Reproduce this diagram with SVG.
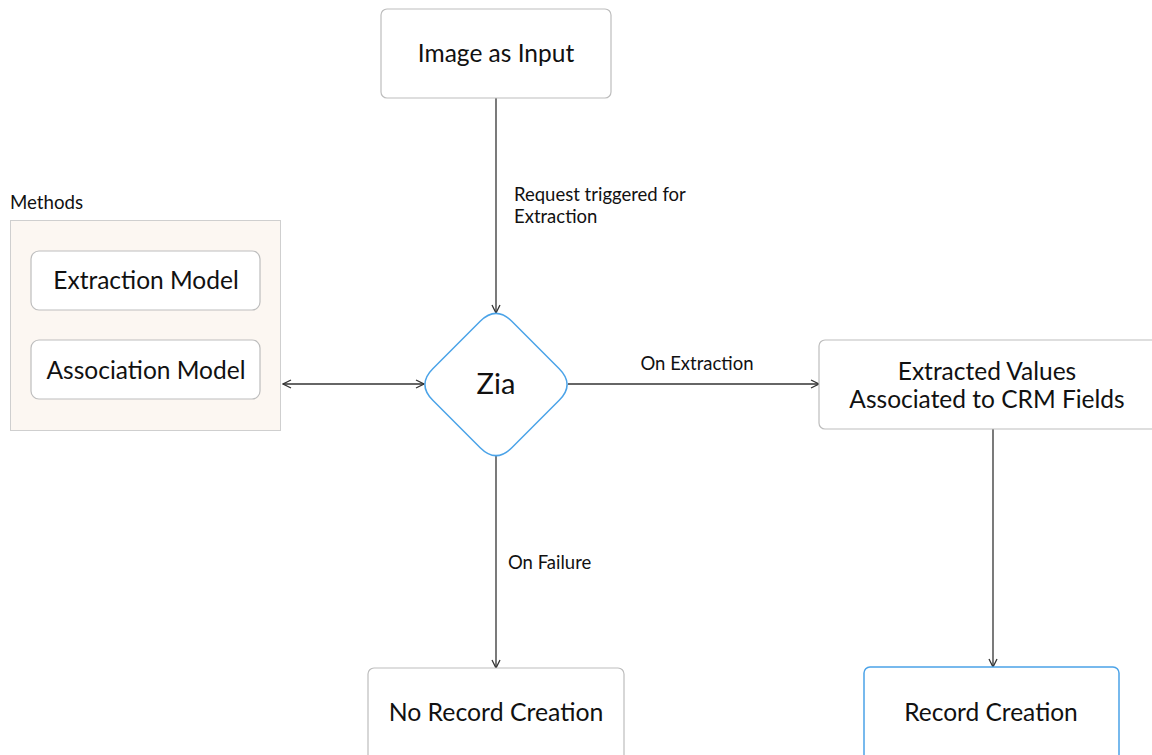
<svg xmlns="http://www.w3.org/2000/svg" width="1152" height="755" viewBox="0 0 1152 755">
<defs>
<style>
.box{fill:#fff;stroke:#bdbdbd;stroke-width:1.2}
.blue{fill:#fff;stroke:#4ba3e8;stroke-width:1.5}
.t{font-family:Lato,"Liberation Sans",sans-serif;fill:#111;text-anchor:middle}
.big{font-size:24.5px}
.sm{font-family:Lato,"Liberation Sans",sans-serif;fill:#111;font-size:18.5px}
.c{stroke:#333;stroke-width:1.3;fill:none}
</style>
<marker id="ah" viewBox="0 0 10 10" refX="9" refY="5" markerWidth="10" markerHeight="10" markerUnits="userSpaceOnUse" orient="auto-start-reverse">
<path d="M1,1 L9,5 L1,9" fill="none" stroke="#333" stroke-width="1.3"/>
</marker>
</defs>
<rect width="1152" height="755" fill="#fff"/>
<g id="connectors">
<line class="c" x1="496" y1="98" x2="496" y2="313" marker-end="url(#ah)"/>
<line class="c" x1="283" y1="384" x2="424" y2="384" marker-start="url(#ah)" marker-end="url(#ah)"/>
<line class="c" x1="568" y1="384" x2="819" y2="384" marker-end="url(#ah)"/>
<line class="c" x1="496" y1="456" x2="496" y2="668" marker-end="url(#ah)"/>
<line class="c" x1="993" y1="429" x2="993" y2="667" marker-end="url(#ah)"/>
<text class="sm" x="514" y="201">Request triggered for</text>
<text class="sm" x="514" y="223">Extraction</text>
<text class="sm" x="697" y="370" text-anchor="middle">On Extraction</text>
<text class="sm" x="508" y="569">On Failure</text>
</g>
<g id="image-input">
<rect class="box" x="381" y="9" width="230" height="89" rx="6"/>
<text class="t big" x="496" y="62">Image as Input</text>
</g>
<g id="methods">
<text class="sm" x="10" y="209" style="font-size:18.7px">Methods</text>
<rect x="10.5" y="220.5" width="270" height="210" fill="#fcf7f2" stroke="#cfcfcf" stroke-width="1"/>
</g>
<g id="extraction-model">
<rect class="box" x="31" y="251" width="229" height="59" rx="8"/>
<text class="t big" x="146" y="289">Extraction Model</text>
</g>
<g id="association-model">
<rect class="box" x="31" y="340" width="229" height="59" rx="8"/>
<text class="t big" x="146" y="379">Association Model</text>
</g>
<g id="zia">
<path class="blue" d="M511.8,321.3 L559.2,368.7 Q575,384.5 559.2,400.3 L511.8,447.7 Q496,463.5 480.2,447.7 L432.8,400.3 Q417,384.5 432.8,368.7 L480.2,321.3 Q496,305.5 511.8,321.3 Z"/>
<text class="t" x="496" y="394" style="font-size:29px">Zia</text>
</g>
<g id="extracted-values">
<rect class="box" x="819" y="340" width="340" height="89" rx="6"/>
<text class="t big" x="987" y="380">Extracted Values</text>
<text class="t big" x="987" y="408">Associated to CRM Fields</text>
</g>
<g id="no-record">
<rect class="box" x="368" y="668" width="256" height="100" rx="6"/>
<text class="t big" x="496" y="721" style="font-size:24.8px">No Record Creation</text>
</g>
<g id="record">
<rect class="blue" x="864" y="667" width="255" height="100" rx="6"/>
<text class="t big" x="991" y="721">Record Creation</text>
</g>
</svg>
